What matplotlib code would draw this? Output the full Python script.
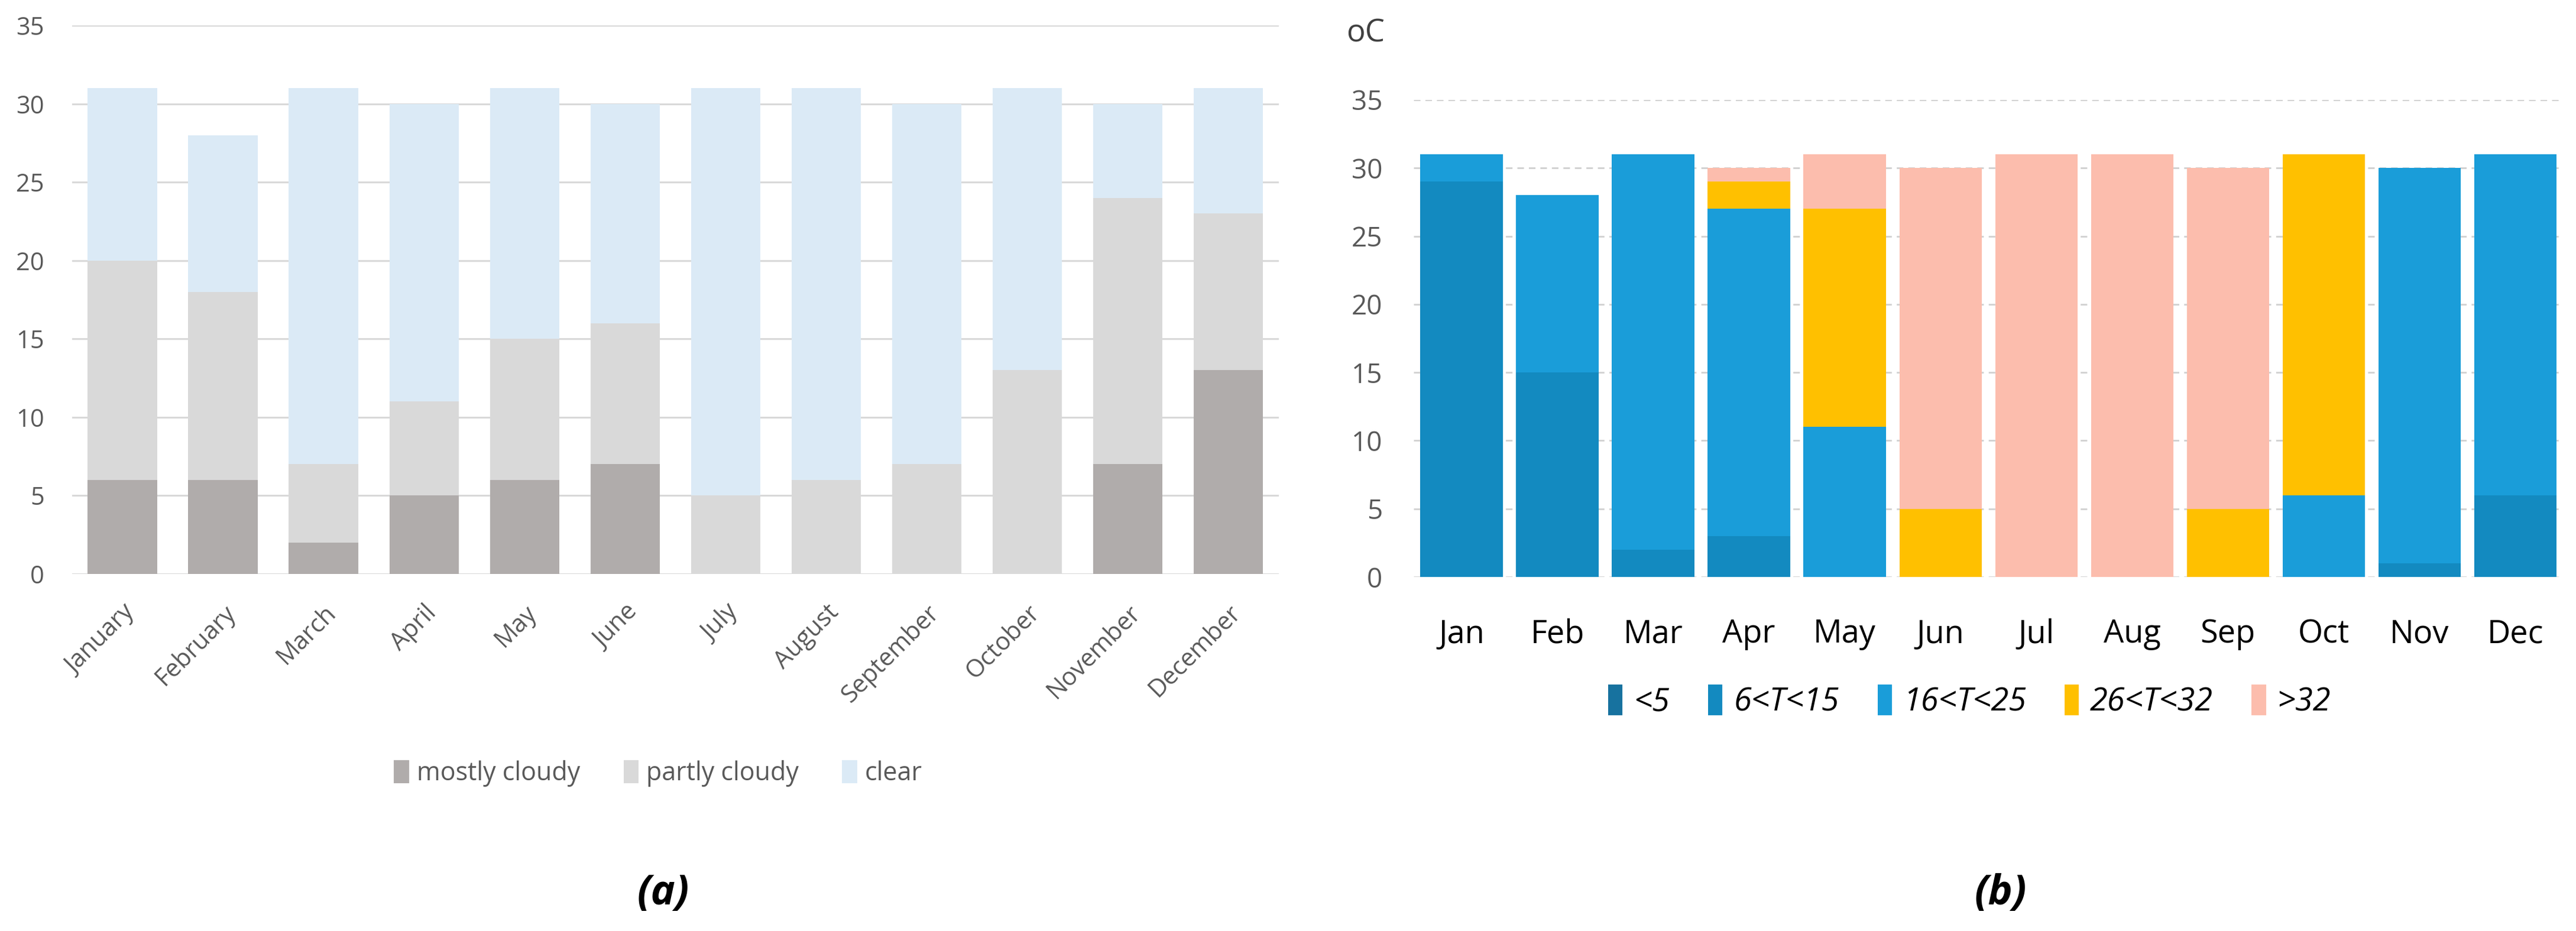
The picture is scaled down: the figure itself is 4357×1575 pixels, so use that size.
import numpy as np
import matplotlib
matplotlib.use("Agg")
import matplotlib.pyplot as plt

plt.rcParams['font.family'] = ['Open Sans', 'DejaVu Sans']

# panel (a): sky conditions, days per month
months_long = ['January', 'February', 'March', 'April', 'May', 'June',
               'July', 'August', 'September', 'October', 'November', 'December']
mostly_cloudy = [6, 6, 2, 5, 6, 7, 0, 0, 0, 0, 7, 13]
partly_cloudy = [14, 12, 5, 6, 9, 9, 5, 6, 7, 13, 17, 10]
clear = [11, 10, 24, 19, 16, 14, 26, 25, 23, 18, 6, 8]

# panel (b): days per temperature class
months_short = ['Jan', 'Feb', 'Mar', 'Apr', 'May', 'Jun',
                'Jul', 'Aug', 'Sep', 'Oct', 'Nov', 'Dec']
temp_labels = ['<5', '6<T<15', '16<T<25', '26<T<32', '>32']
t_lt5 = [0, 0, 0, 0, 0, 0, 0, 0, 0, 0, 0, 0]
t_6_15 = [29, 15, 2, 3, 0, 0, 0, 0, 0, 0, 1, 6]
t_16_25 = [2, 13, 29, 24, 11, 0, 0, 0, 0, 6, 29, 25]
t_26_32 = [0, 0, 0, 2, 16, 5, 0, 0, 5, 25, 0, 0]
t_gt32 = [0, 0, 0, 1, 4, 25, 31, 31, 25, 0, 0, 0]

gray_txt = '#595959'

fig = plt.figure(figsize=(43.57, 15.75), dpi=100)

# ---------- (a) ----------
ax1 = fig.add_axes([0.028, 0.3835, 0.4684, 0.5892])
x = np.arange(len(months_long))
cols_a = ['#b0acab', '#d9d9d9', '#dbeaf6']
names_a = ['mostly cloudy', 'partly cloudy', 'clear']
bottom = np.zeros(len(x))
for vals, c, n in zip([mostly_cloudy, partly_cloudy, clear], cols_a, names_a):
    ax1.bar(x, vals, 0.69, bottom=bottom, color=c, label=n, zorder=3)
    bottom += np.array(vals)
ax1.set_xlim(-0.5, 11.5)
ax1.set_ylim(0, 35)
ax1.set_yticks(range(0, 36, 5))
ax1.yaxis.grid(True, color='#d9d9d9', linewidth=2.2, zorder=0)
for s in ax1.spines.values():
    s.set_visible(False)
ax1.tick_params(axis='both', length=0, labelsize=30, colors=gray_txt)
ax1.tick_params(axis='y', pad=34)
ax1.set_xticks(x)
ax1.set_xticklabels(months_long, rotation=45, ha='right', rotation_mode='anchor')
ax1.tick_params(axis='x', pad=32)
fig.legend(*ax1.get_legend_handles_labels(), loc='center', ncol=3,
           bbox_to_anchor=(0.2555, 0.169), frameon=False, fontsize=31,
           labelcolor=gray_txt, handlelength=0.6, handleheight=1.0,
           handletextpad=0.3, columnspacing=1.7)

# ---------- (b) ----------
ax2 = fig.add_axes([0.5488, 0.3803, 0.4462, 0.5124])
cols_b = ['#17729f', '#138ac0', '#1a9dd9', '#ffc000', '#fcbdad']
bottom = np.zeros(len(x))
for vals, c, n in zip([t_lt5, t_6_15, t_16_25, t_26_32, t_gt32], cols_b, temp_labels):
    ax2.bar(x, vals, 0.86, bottom=bottom, color=c, label=n, zorder=3)
    bottom += np.array(vals)
ax2.set_xlim(-0.5, 11.5)
ax2.set_ylim(0, 35)
ax2.set_yticks(range(0, 36, 5))
ax2.yaxis.grid(True, color='#d0d0d0', linewidth=2, linestyle=(0, (4, 3)), zorder=0)
for s in ax2.spines.values():
    s.set_visible(False)
ax2.tick_params(axis='y', length=0, labelsize=33, colors=gray_txt, pad=38)
ax2.set_xticks(x)
ax2.set_xticklabels(months_short)
ax2.tick_params(axis='x', length=0, labelsize=39, colors='black', pad=50)
fig.text(0.530, 0.964, 'oC', fontsize=38, color='#404040', ha='center', va='center')
fig.legend(*ax2.get_legend_handles_labels(), loc='center', ncol=5,
           bbox_to_anchor=(0.7645, 0.2464), frameon=False,
           prop={'size': 39, 'style': 'italic'},
           handlelength=0.45, handleheight=1.1, handletextpad=0.35, columnspacing=1.2)

fig.text(0.2575, 0.04, '(a)', fontsize=50, fontweight='bold', fontstyle='italic',
         ha='center', va='center')
fig.text(0.7765, 0.04, '(b)', fontsize=50, fontweight='bold', fontstyle='italic',
         ha='center', va='center')

fig.savefig('out.png', dpi=100)
